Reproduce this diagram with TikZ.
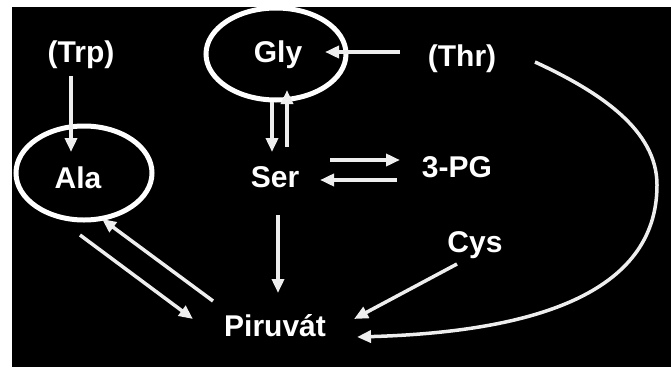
\documentclass[tikz,border=0pt]{standalone}
\usepackage{fontspec}
\setmainfont{Liberation Sans}
\usetikzlibrary{arrows.meta,calc,shapes.geometric}
\definecolor{linecol}{HTML}{EEEEEE}
\begin{document}
\begin{tikzpicture}[x=1pt,y=-1pt,
  lbl/.style={text=white,font=\bfseries\fontsize{30}{36}\selectfont,inner sep=0pt,anchor=base},
  ring/.style={draw=white,line width=5pt,ellipse,inner sep=0pt},
  arr/.style={draw=linecol,line width=3.5pt,-{Triangle[length=14pt,width=12pt]}}]

\useasboundingbox (0,0) rectangle (671,367);
\fill[white] (0,0) rectangle (671,367);
\fill[black] (12,7) rectangle (671,367);

% amino acids and intermediates
\node[lbl] (trp) at (81,62) {(Trp)};
\node[lbl] (gly) at (278,62) {Gly};
\node[lbl] (thr) at (462,66) {(Thr)};
\node[lbl] (ala) at (78,188) {Ala};
\node[lbl] (ser) at (275,187) {Ser};
\node[lbl] (pg) at (457,177) {3-PG};
\node[lbl] (cys) at (475,252) {Cys};
\node[lbl] (pir) at (275,336) {Piruvát};

% highlight rings
\node[ring,minimum width=136pt,minimum height=94pt] (alaring) at (84,173) {};
\node[ring,minimum width=140pt,minimum height=92pt] (glyring) at (276,54) {};

% reactions
\draw[arr] ($(trp.base)+(-10,14)$) -- ($(ala.base)+(-7,-36)$);
\draw[arr] ($(thr.base)+(-62,-14)$) -- ($(gly.base)+(47,-10)$);
\draw[arr] ($(gly.base)+(-6,40)$) -- ($(ser.base)+(-3,-35)$);
\draw[arr] ($(ser.base)+(12,-40)$) -- ($(gly.base)+(9,28)$);
\draw[arr] ($(ser.base)+(55,-27)$) -- ($(pg.base)+(-57,-17)$);
\draw[arr] ($(pg.base)+(-60,3)$) -- ($(ser.base)+(45,-7)$);
\draw[arr] ($(ser.base)+(3,28)$) -- ($(pir.base)+(3,-43)$);
\draw[arr] ($(ala.base)+(2,47)$) -- ($(pir.base)+(-82,-17)$);
\draw[arr] ($(pir.base)+(-62,-35)$) -- ($(ala.base)+(24,31)$);
\draw[arr] ($(cys.base)+(-18,12)$) -- ($(pir.base)+(79,-17)$);

% long arc from threonine down to pyruvate
\coordinate (bend) at (657,185);
\draw[arr] ($(thr.base)+(73,-4)$) .. controls (600,92) and (657,130) .. (bend)
  .. controls (657,295) and (530,332) .. ($(pir.base)+(82,1)$);
\end{tikzpicture}
\end{document}
